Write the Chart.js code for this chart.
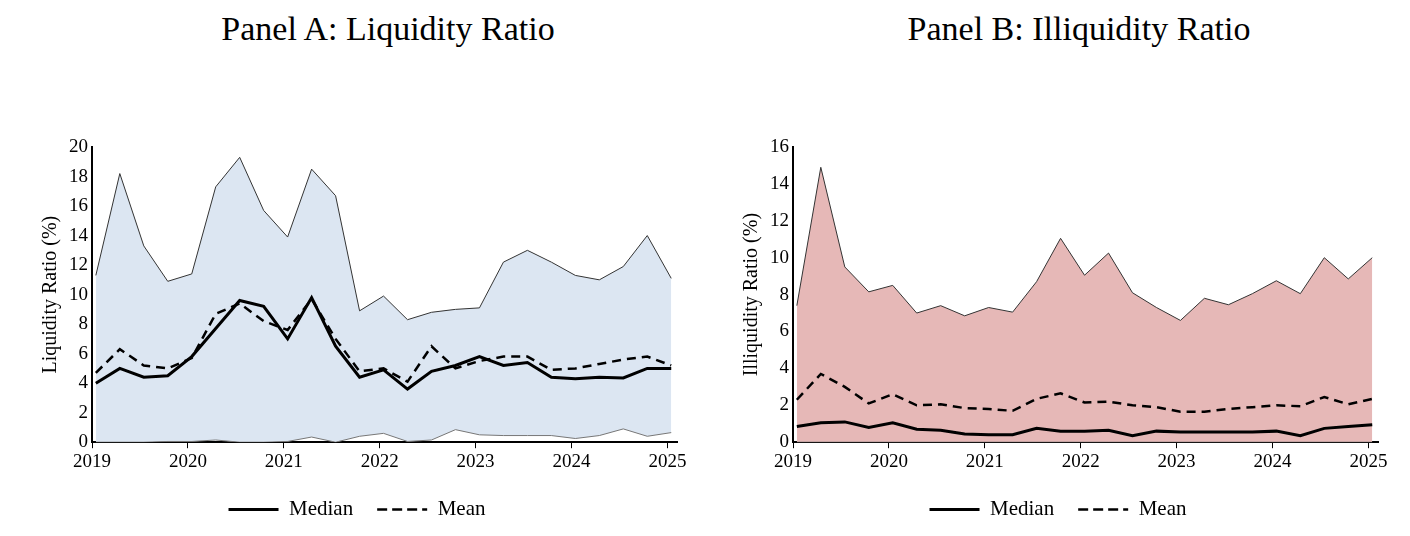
<!DOCTYPE html>
<html><head><meta charset="utf-8">
<script src="https://cdn.jsdelivr.net/npm/chart.js@4/dist/chart.umd.min.js"></script>
<style>
body{margin:0;background:#fff;width:1410px;height:536px;position:relative;overflow:hidden;font-family:"Liberation Serif","Times New Roman",serif}
.t{position:absolute;top:10px;font-size:34px;text-align:center;width:600px}
.c{position:absolute;top:120px;width:705px;height:416px}
</style></head><body>
<div class="t" style="left:88px">Panel A: Liquidity Ratio</div>
<div class="t" style="left:779px">Panel B: Illiquidity Ratio</div>
<div class="c" style="left:0"><canvas id="a"></canvas></div>
<div class="c" style="left:701px"><canvas id="b"></canvas></div>
<script>
const quarters = Array.from({length:25},(_,k)=>2019.04+0.25*k);
const liqMax = [11.3,18.2,13.3,10.9,11.4,17.3,19.3,15.7,13.9,18.5,16.7,8.9,9.9,8.3,8.8,9.0,9.1,12.2,13.0,12.2,11.3,11.0,11.9,14.0,11.1];
const liqMin = [0,0,0,0.05,0.05,0.15,0,0,0.05,0.35,0,0.4,0.6,0.05,0.15,0.85,0.5,0.45,0.45,0.45,0.25,0.45,0.9,0.4,0.65];
const liqMedian = [4.0,5.0,4.4,4.5,5.8,7.7,9.6,9.2,7.0,9.8,6.5,4.4,4.9,3.6,4.8,5.2,5.8,5.2,5.4,4.4,4.3,4.4,4.35,5.0,5.0];
const liqMean = [4.7,6.3,5.2,5.0,5.7,8.7,9.4,8.2,7.6,9.7,7.0,4.8,5.0,4.1,6.5,5.0,5.5,5.8,5.8,4.9,5.0,5.3,5.6,5.8,5.2];
const illMax = [7.4,14.9,9.5,8.15,8.5,7.0,7.4,6.85,7.3,7.05,8.7,11.05,9.05,10.25,8.1,7.3,6.6,7.8,7.45,8.05,8.75,8.05,10.0,8.85,10.0];
const illMin = [0,0,0,0,0,0,0,0,0,0,0,0,0,0,0,0,0,0,0,0,0,0,0,0,0];
const illMedian = [0.85,1.05,1.1,0.8,1.05,0.7,0.65,0.45,0.4,0.4,0.75,0.6,0.6,0.65,0.35,0.6,0.55,0.55,0.55,0.55,0.6,0.35,0.75,0.85,0.95];
const illMean = [2.3,3.7,3.0,2.1,2.6,2.0,2.05,1.85,1.8,1.7,2.35,2.65,2.15,2.2,2.0,1.9,1.65,1.65,1.8,1.9,2.0,1.95,2.45,2.05,2.35];

const F='"Liberation Serif","Times New Roman",serif';
const pts=a=>a.map((v,i)=>({x:quarters[i],y:v}));
function make(id,mx,mn,med,mean,fillCol,yTitle,ymax){
  new Chart(document.getElementById(id),{type:'line',
    data:{datasets:[
      {label:'Max',data:pts(mx),borderColor:'#333',borderWidth:1,backgroundColor:fillCol,fill:'+1',pointRadius:0,tension:0,order:4},
      {label:'Min',data:pts(mn),borderColor:'#777',borderWidth:1,pointRadius:0,fill:false,tension:0,order:3},
      {label:'Median',data:pts(med),borderColor:'#000',borderWidth:3,pointRadius:0,fill:false,tension:0,order:1},
      {label:'Mean',data:pts(mean),borderColor:'#000',borderWidth:2.5,borderDash:[9,6],pointRadius:0,fill:false,tension:0,order:2}
    ]},
    options:{responsive:true,maintainAspectRatio:false,animation:false,
      layout:{padding:{top:27,right:28,left:37,bottom:6}},
      plugins:{tooltip:{enabled:false},filler:{drawTime:'beforeDatasetsDraw'},
        legend:{position:'bottom',labels:{filter:l=>l.text==='Median'||l.text==='Mean',sort:(a,b)=>a.datasetIndex-b.datasetIndex,color:'#000',font:{family:F,size:21},boxWidth:50,boxHeight:0,padding:24}}},
      scales:{
        x:{type:'linear',min:2019,max:2025.1,
          afterBuildTicks:s=>{s.ticks=[2019,2020,2021,2022,2023,2024,2025].map(v=>({value:v}));},
          ticks:{color:'#000',font:{family:F,size:19},callback:v=>String(v),maxRotation:0,padding:2},
          grid:{drawOnChartArea:false,tickLength:6,tickColor:'#000'},border:{color:'#000',width:2}},
        y:{min:0,max:ymax,ticks:{stepSize:2,color:'#000',font:{family:F,size:19},padding:4},
          title:{display:true,text:yTitle,color:'#000',font:{family:F,size:20},padding:2},
          grid:{drawOnChartArea:false,tickLength:0},border:{color:'#000',width:2}}
      }}});
}
make('a',liqMax,liqMin,liqMedian,liqMean,'#dce6f2','Liquidity Ratio (%)',20);
make('b',illMax,illMin,illMedian,illMean,'#e6b8b7','Illiquidity Ratio (%)',16);
</script></body></html>
